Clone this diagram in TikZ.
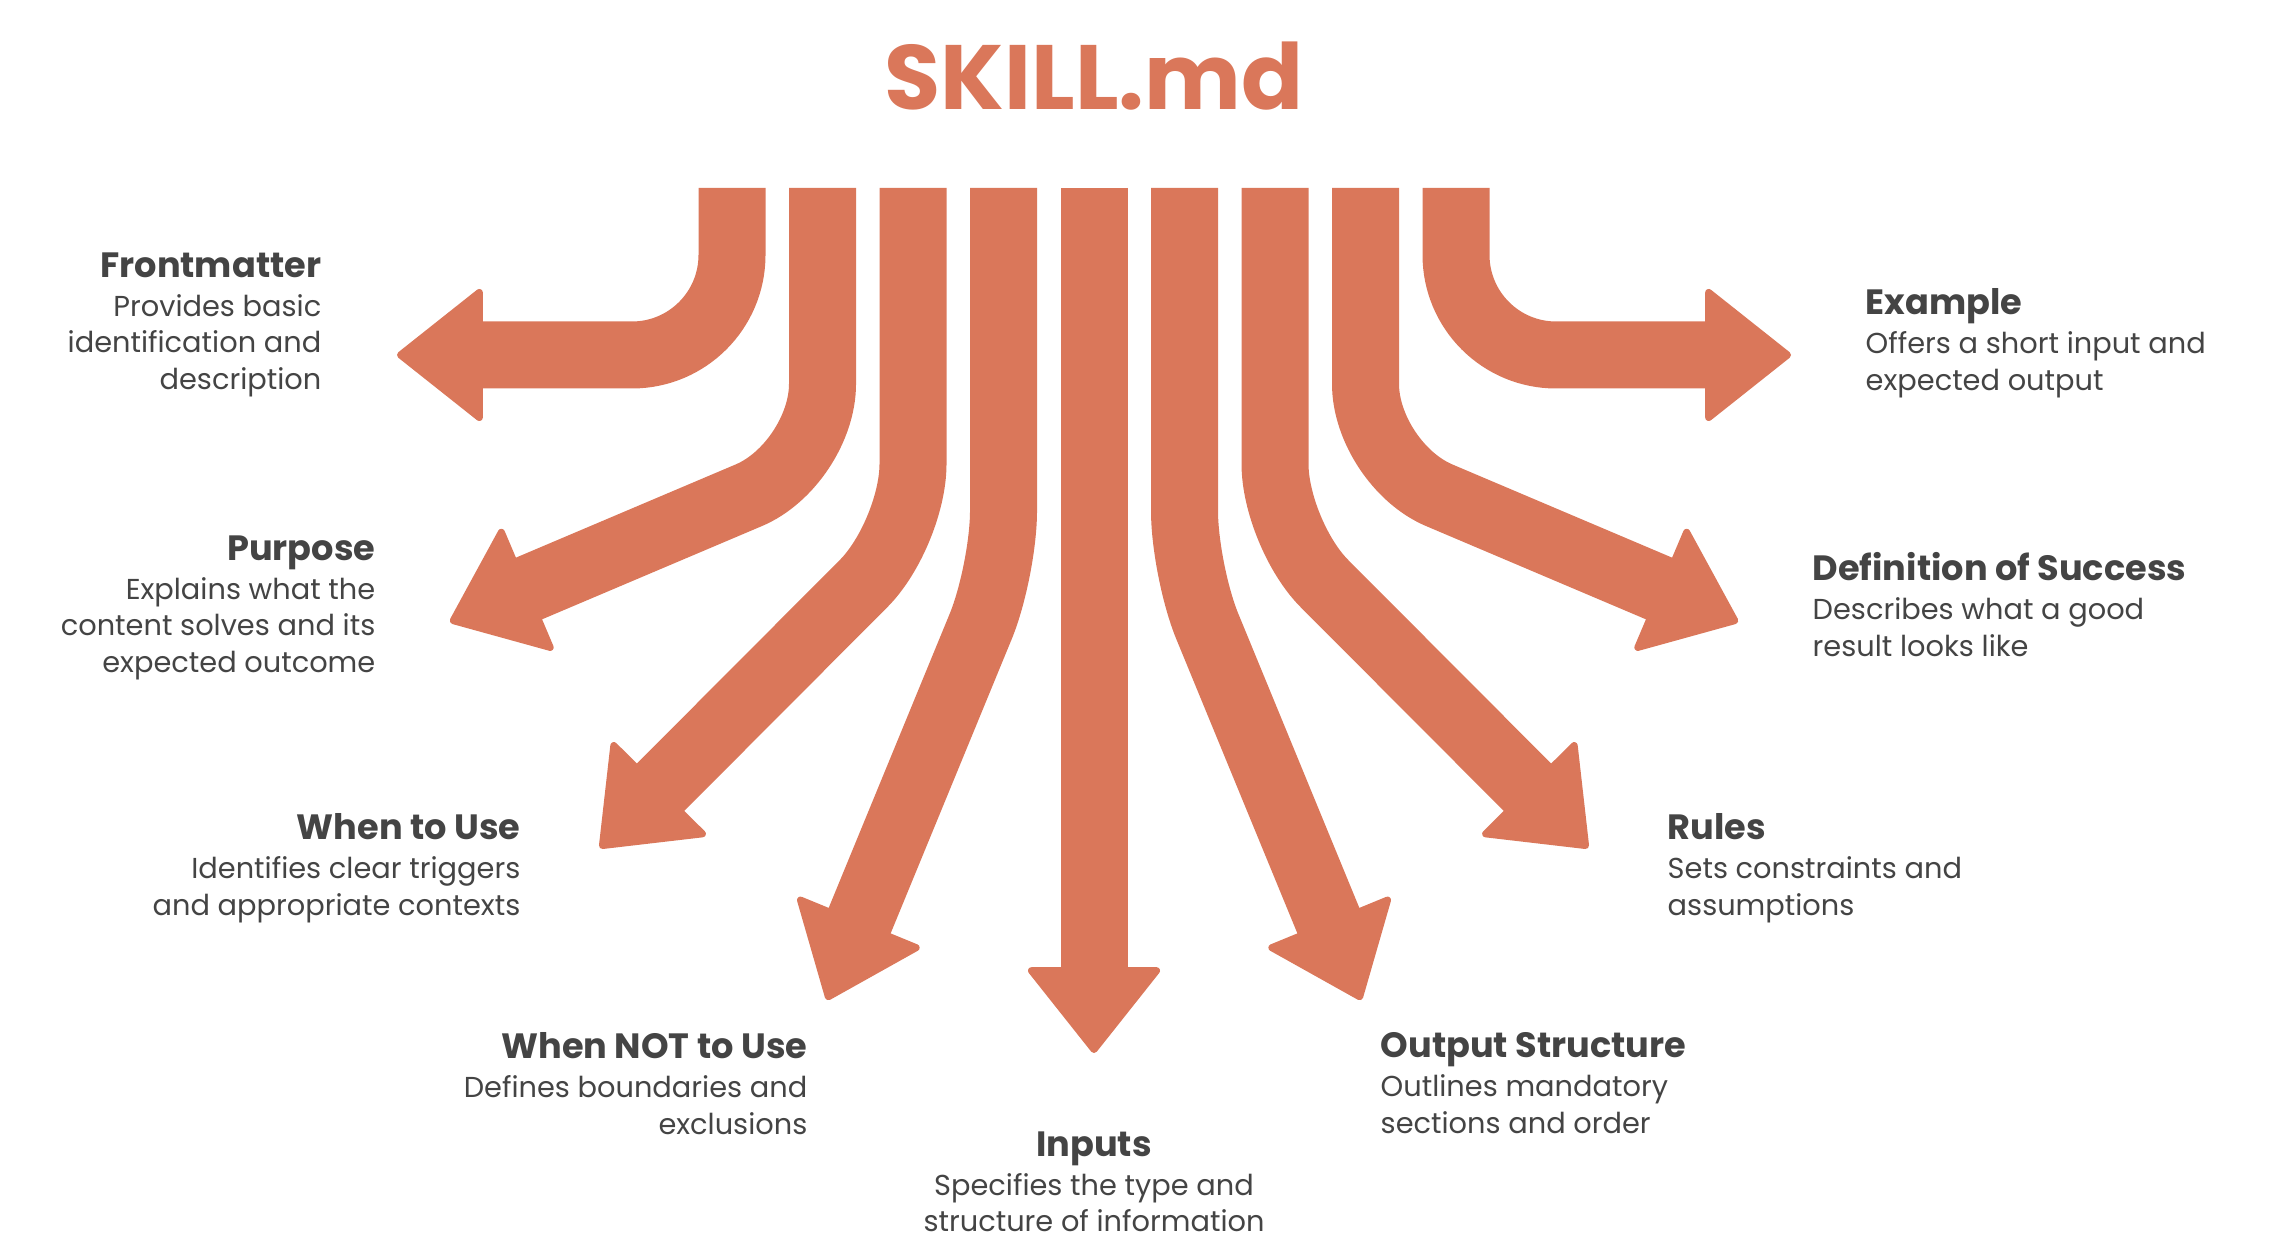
\documentclass[tikz,border=0pt]{standalone}
\usepackage{fontspec}
\setmainfont{Poppins}
\usetikzlibrary{positioning,arrows.meta,calc}

\definecolor{coral}{HTML}{DA775A}
\definecolor{ink}{HTML}{444444}
% heading line of a label
\newcommand{\hd}[1]{{\fontsize{10}{11}\selectfont\bfseries #1}\\[0.7pt]}

\begin{document}
\begin{tikzpicture}[
  font=\fontsize{8.2}{10.4}\selectfont,
  >={Triangle[length=0.88cm,width=1.38cm,line width=2pt,round]},
  every node/.style={inner sep=0pt, text=ink},
  lblr/.style={align=right, anchor=north east},
  lbll/.style={align=left, anchor=north west},
  lblc/.style={align=center, anchor=north},
  arr/.style={->, draw=coral, line width=0.67cm, line join=round},
]
\useasboundingbox (0,0) rectangle (22.87,-12.51);

%---------- title ----------
\node[font=\fontsize{26}{30}\selectfont\bfseries, text=coral, anchor=base] (title)
  at (10.94,-1.10) {SKILL.md};

%---------- arrow roots (one row under the title) ----------
\foreach \i in {1,...,9}{
  \coordinate (top\i) at ($(title.base)+({(\i-5)*0.905},-0.78)$);
}

%---------- left labels ----------
\node[lblr] (fm) at (3.22,-2.52)
  {\hd{Frontmatter}Provides basic\\identification and\\description};
\node[lblr] (purp) at (3.76,-5.35)
  {\hd{Purpose}Explains what the\\content solves and its\\expected outcome};
\node[lblr] (wtu) at (5.21,-8.13)
  {\hd{When to Use}Identifies clear triggers\\and appropriate contexts};
\node[lblr] (wnu) at (8.08,-10.32)
  {\hd{When NOT to Use}Defines boundaries and\\exclusions};

%---------- bottom label ----------
\node[lblc] (inp) at (10.94,-11.31)
  {\hd{Inputs}Specifies the type and\\structure of information};

%---------- right labels ----------
\node[lbll] (outs) at (13.80,-10.32)
  {\hd{Output Structure}Outlines mandatory\\sections and order};
\node[lbll] (rules) at (16.67,-8.13)
  {\hd{Rules}Sets constraints and\\assumptions};
\node[lbll] (dos) at (18.12,-5.52)
  {\hd{Definition of Success}Describes what a good\\result looks like};
\node[lbll] (ex) at (18.65,-2.88)
  {\hd{Example}Offers a short input and\\expected output};

%---------- arrow tips ----------
\coordinate (tip1) at (3.97,-3.55);
\coordinate (tip2) at (4.50,-6.22);
\coordinate (tip3) at (6.00,-8.48);
\coordinate (tip4) at (8.27,-10.00);
\coordinate (tip5) at (10.94,-10.53);
\coordinate (tip6) at (13.61,-10.00);
\coordinate (tip7) at (15.88,-8.48);
\coordinate (tip8) at (17.38,-6.22);
\coordinate (tip9) at (17.91,-3.55);

%---------- arrows ----------
\draw[arr, rounded corners=1cm] (top1) |- (tip1);
\draw[arr, rounded corners=0.8cm] (top2) -- (top2 |- 0,-4.64) -- (tip2);
\draw[arr, rounded corners=0.7cm] (top3) -- (top3 |- 0,-5.34) -- (tip3);
\draw[arr, rounded corners=0.6cm] (top4) -- (top4 |- 0,-5.71) -- (tip4);
\draw[arr] (top5) -- (tip5);
\draw[arr, rounded corners=0.6cm] (top6) -- (top6 |- 0,-5.71) -- (tip6);
\draw[arr, rounded corners=0.7cm] (top7) -- (top7 |- 0,-5.34) -- (tip7);
\draw[arr, rounded corners=0.8cm] (top8) -- (top8 |- 0,-4.64) -- (tip8);
\draw[arr, rounded corners=1cm] (top9) |- (tip9);

\end{tikzpicture}
\end{document}
